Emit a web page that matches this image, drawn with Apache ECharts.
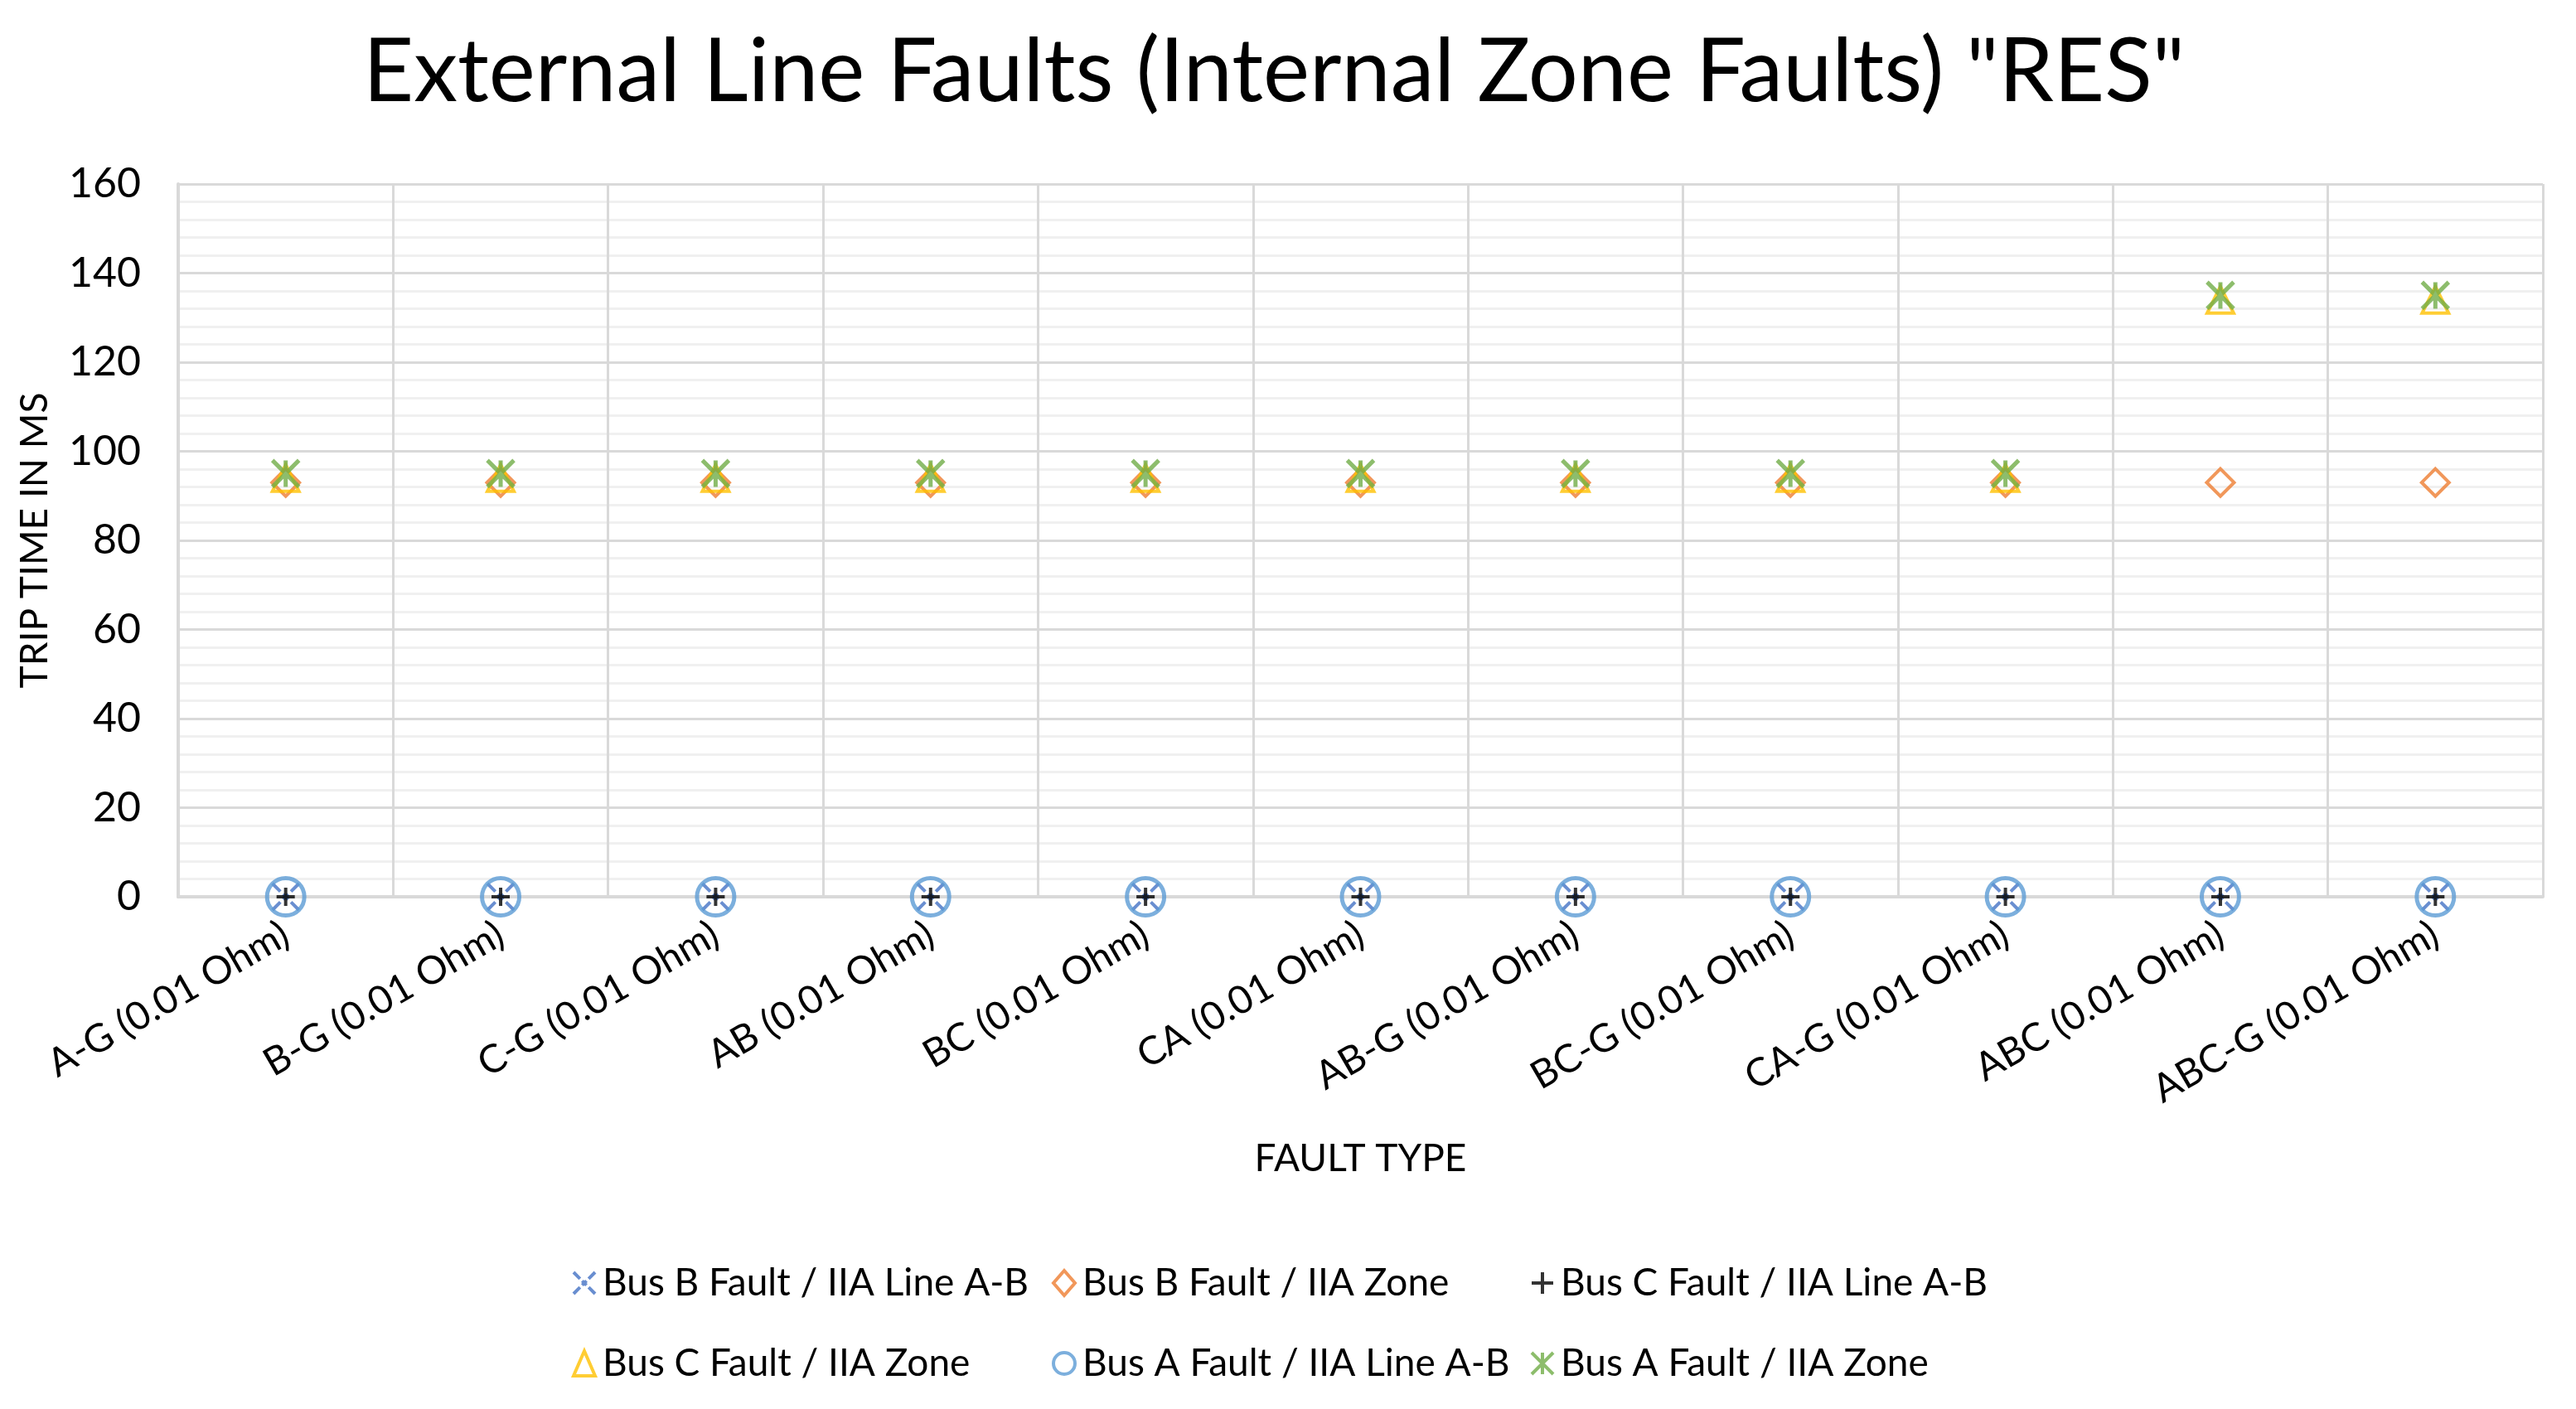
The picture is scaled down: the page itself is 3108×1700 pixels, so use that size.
<!DOCTYPE html>
<html><head><meta charset="utf-8">
<script src="https://cdn.jsdelivr.net/npm/echarts@6/dist/echarts.min.js"></script>
<style>html,body{margin:0;padding:0;background:#fff}#c{width:3108px;height:1700px}</style>
</head><body><div id="c"></div><script>
const categories = ['A-G (0.01 Ohm)','B-G (0.01 Ohm)','C-G (0.01 Ohm)','AB (0.01 Ohm)','BC (0.01 Ohm)','CA (0.01 Ohm)','AB-G (0.01 Ohm)','BC-G (0.01 Ohm)','CA-G (0.01 Ohm)','ABC (0.01 Ohm)','ABC-G (0.01 Ohm)'];
const seriesNames = ['Bus B Fault / IIA Line A-B','Bus B Fault / IIA Zone','Bus C Fault / IIA Line A-B','Bus C Fault / IIA Zone','Bus A Fault / IIA Line A-B','Bus A Fault / IIA Zone'];
const busBLine = [0,0,0,0,0,0,0,0,0,0,0];
const busBZone = [93,93,93,93,93,93,93,93,93,93,93];
const busCLine = [0,0,0,0,0,0,0,0,0,0,0];
const busCZone = [94,94,94,94,94,94,94,94,94,134,134];
const busALine = [0,0,0,0,0,0,0,0,0,0,0];
const busAZone = [95,95,95,95,95,95,95,95,95,135,135];
const yTicks = {min:0, max:160, interval:20};

const FONT = 'Lato';
const X_DASH = 'path://M0,0L3,3M4,4L6,6M7,7L10,10M10,0L7,3M6,4L4,6M3,7L0,10';
const PLUS = 'path://M5,0L5,10M0,5L10,5';
const STAR = 'path://M0,0L10,10M10,0L0,10M5,0L5,10';
const styles = [
  {symbol:X_DASH, size:32, color:'#4472C4', w:4},
  {symbol:'diamond', size:33, color:'#ED7D31', w:4},
  {symbol:PLUS, size:22, color:'#000000', w:4},
  {symbol:'triangle', size:32, color:'#FFC000', w:4},
  {symbol:'circle', size:45, color:'#5B9BD5', w:5},
  {symbol:STAR, size:32, color:'#70AD47', w:5}
];
const dataSets = [busBLine,busBZone,busCLine,busCZone,busALine,busAZone];

const series = dataSets.map((d,i)=>({
  name: seriesNames[i], type:'scatter', data:d,
  symbol: styles[i].symbol, symbolSize: styles[i].size,
  itemStyle:{color:'rgba(0,0,0,0)', borderColor:styles[i].color, borderWidth:styles[i].w},
  emphasis:{disabled:true}, clip:false, z: 2+i
}));

const legendLeft = [690,1269,1846,690,1269,1846];
const legendCY = [1548,1548,1548,1645,1645,1645];
const legends = seriesNames.map((n,i)=>({
  data:[{name:n, itemStyle:{color:'rgba(0,0,0,0)', borderColor:styles[i].color, borderWidth:4}}],
  left:legendLeft[i], top:legendCY[i]-23, padding:0,
  itemWidth:26, itemHeight:30, itemGap:0,
  textStyle:{fontFamily:FONT, fontSize:46, color:'#000', lineHeight:46, padding:[0,0,0,4]},
  selectedMode:false
}));

const chart = echarts.init(document.getElementById('c'));
chart.setOption({
  animation:false,
  backgroundColor:'#fff',
  title:{text:'External Line Faults (Internal Zone Faults) "RES"', left:1532, textAlign:'center', top:30,
    textStyle:{fontFamily:FONT, fontWeight:'normal', fontSize:106, color:'#000'}},
  legend: legends,
  grid:{left:215, right:40, top:222, bottom:618, containLabel:false, outerBoundsMode:'none'},
  xAxis:{type:'category', data:categories, boundaryGap:true,
    axisLine:{lineStyle:{color:'#d9d9d9', width:4}},
    axisTick:{show:false},
    splitLine:{show:true, lineStyle:{color:'#d9d9d9', width:3}},
    axisLabel:{rotate:30, margin:42, interval:0, fontFamily:FONT, fontSize:47, color:'#000'},
    name:'FAULT TYPE', nameLocation:'middle', nameGap:293,
    nameTextStyle:{fontFamily:FONT, fontSize:46, color:'#000'}},
  yAxis:{type:'value', min:yTicks.min, max:yTicks.max, interval:yTicks.interval,
    axisLine:{show:true, lineStyle:{color:'#d9d9d9', width:4}},
    axisTick:{show:false},
    splitLine:{show:true, lineStyle:{color:'#d9d9d9', width:3}},
    minorSplitLine:{show:true, lineStyle:{color:'#f0f0f0', width:3}},
    minorTick:{show:false, splitNumber:5},
    axisLabel:{margin:45, fontFamily:FONT, fontSize:50, color:'#000'},
    name:'TRIP TIME IN MS', nameLocation:'middle', nameGap:150,
    nameTextStyle:{fontFamily:FONT, fontSize:46, color:'#000'}},
  series: series
});
</script></body></html>
